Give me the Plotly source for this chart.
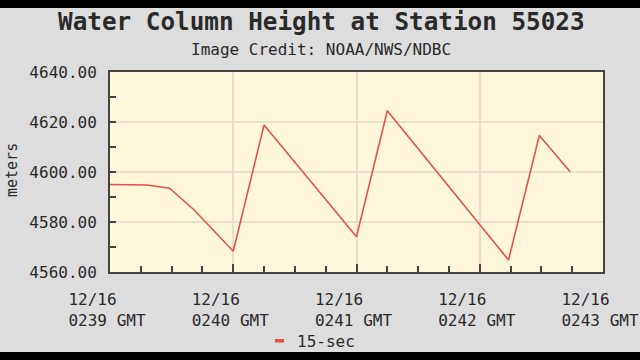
import plotly.graph_objects as go

# ---- data ----
day = "2023-12-16"
times = ["02:39:00", "02:39:18", "02:39:29", "02:39:41", "02:40:00", "02:40:15",
         "02:41:00", "02:41:15", "02:42:14", "02:42:29", "02:42:44"]
heights = [4595.0, 4594.8, 4593.5, 4584.8, 4568.3, 4618.8,
           4574.1, 4624.5, 4564.8, 4614.6, 4600.1]
tick_times = ["02:39:00", "02:40:00", "02:41:00", "02:42:00", "02:43:00"]
tick_labels = ["0239 GMT", "0240 GMT", "0241 GMT", "0242 GMT", "0243 GMT"]
date_label = "12/16"
y_ticks = [4560, 4580, 4600, 4620, 4640]

title = "Water Column Height at Station 55023"
subtitle = "Image Credit: NOAA/NWS/NDBC"
series_name = "15-sec"
y_title = "meters"

# ---- style ----
MONO = "DejaVu Sans Mono"
LINE = "#e4524c"
PLOT_BG = "#fff7da"
PAPER_BG = "#dddddd"
GRID = "#e7e1cb"
FRAME = "#444444"
TXT = "#2a2a2a"

W, H = 640, 360
L, R, T, B = 110, 37, 72, 88
pw, ph = W - L - R, H - T - B

def px_x(x):
    return (x - L) / pw

def px_y(y):
    return (H - B - y) / ph

x_full = [f"{day} {t}" for t in times]
tick_full = [f"{day} {t}" for t in tick_times]
tick_text = [f"{date_label}\u00a0\u00a0\u00a0<br>{t}" for t in tick_labels]

fig = go.Figure()
fig.add_trace(go.Scatter(
    x=x_full, y=heights, mode="lines", name=series_name,
    line=dict(color=LINE, width=1.6), showlegend=False,
))

fig.update_layout(
    width=W, height=H,
    margin=dict(l=L, r=R, t=T, b=B, pad=0, autoexpand=False),
    paper_bgcolor=PAPER_BG, plot_bgcolor=PLOT_BG,
    font=dict(family=MONO, size=16, color=TXT),
)

fig.update_xaxes(
    type="date", automargin=False,
    range=[tick_full[0], tick_full[-1]],
    tickmode="array", tickvals=tick_full, ticktext=tick_text,
    ticks="inside", ticklen=8, tickwidth=2, tickcolor=FRAME,
    showgrid=True, gridcolor=GRID, gridwidth=1.5,
    showline=True, linecolor=FRAME, linewidth=2, mirror=True,
    tickfont=dict(family=MONO, size=16, color=TXT),
    ticklabelstandoff=12, ticklabelshift=-3, ticklabeloverflow="allow",
    minor=dict(dtick=15000, tick0=tick_full[0], ticks="inside", ticklen=6,
               tickwidth=2, tickcolor=FRAME, showgrid=False),
    zeroline=False,
)
fig.update_yaxes(
    automargin=False,
    range=[y_ticks[0], y_ticks[-1]],
    tickmode="array", tickvals=y_ticks, tickformat=".2f",
    ticks="inside", ticklen=6, tickwidth=2, tickcolor=FRAME,
    showgrid=True, gridcolor=GRID, gridwidth=1.5,
    showline=True, linecolor=FRAME, linewidth=2, mirror=True,
    tickfont=dict(family=MONO, size=16, color=TXT),
    ticklabelstandoff=8,
    minor=dict(dtick=10, ticks="inside", ticklen=6, tickwidth=2,
               tickcolor=FRAME, showgrid=False),
    zeroline=False,
)

ann = [
    dict(text=f"<b>{title}</b>", x=px_x(321), y=px_y(21), xref="paper", yref="paper",
         showarrow=False, xanchor="center", yanchor="middle",
         font=dict(family=MONO, size=24.3, color=TXT)),
    dict(text=subtitle, x=px_x(321), y=px_y(50), xref="paper", yref="paper",
         showarrow=False, xanchor="center", yanchor="middle",
         font=dict(family=MONO, size=16, color=TXT)),
    dict(text=y_title, x=px_x(12), y=px_y(170), xref="paper", yref="paper",
         showarrow=False, xanchor="center", yanchor="middle", textangle=-90,
         font=dict(family=MONO, size=15, color=TXT)),
    dict(text=series_name, x=px_x(295), y=px_y(341), xref="paper", yref="paper",
         showarrow=False, xanchor="left", yanchor="middle",
         font=dict(family=MONO, size=16, color=TXT)),
]
fig.update_layout(annotations=ann)

shapes = [
    # legend key
    dict(type="rect", xref="paper", yref="paper", x0=px_x(275), x1=px_x(284),
         y0=px_y(339), y1=px_y(342.5), fillcolor=LINE, line=dict(width=0)),
    # black frame bars of the screenshot
    dict(type="rect", xref="paper", yref="paper", x0=px_x(0), x1=px_x(W),
         y0=px_y(0), y1=px_y(8), fillcolor="black", line=dict(width=0), layer="above"),
    dict(type="rect", xref="paper", yref="paper", x0=px_x(0), x1=px_x(W),
         y0=px_y(352), y1=px_y(H), fillcolor="black", line=dict(width=0), layer="above"),
]
fig.update_layout(shapes=shapes)

fig.write_html("out.html")
